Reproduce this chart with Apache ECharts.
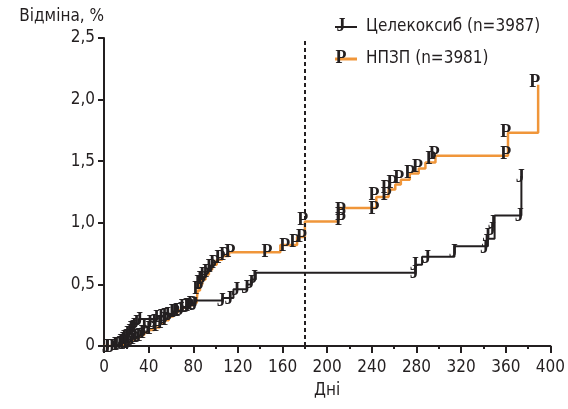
<!DOCTYPE html>
<html><head><meta charset="utf-8">
<script src="https://cdn.jsdelivr.net/npm/echarts@6/dist/echarts.min.js"></script>
<style>html,body{margin:0;padding:0;background:#fff}#c{width:568px;height:409px}</style>
</head><body><div id="c"></div>
<script>
const seriesNames = ['Целекоксиб (n=3987)', 'НПЗП (n=3981)'];
const xAxisTitle = 'Дні';
const yAxisTitle = 'Відміна, %';
const cutoffDay = 180;

// Celecoxib cumulative discontinuation (%) steps [day, %]
const celecoxibSteps = [[0,0],[12,0.01],[15,0.03],[18,0.06],[21,0.1],[24,0.14],[27,0.18],[31,0.22],[48,0.24],[55,0.26],[62,0.28],[70,0.31],[76,0.33],[82,0.37],[106,0.39],[116,0.46],[128,0.5],[132,0.54],[136,0.595],[279,0.66],[285,0.725],[314,0.81],[344,0.87],[350,1.06],[374,1.38]];
// NSAID cumulative discontinuation (%) steps [day, %]
const nsaidSteps = [[0,0],[10,0.01],[16,0.02],[20,0.03],[24,0.05],[28,0.07],[32,0.09],[36,0.11],[40,0.13],[45,0.15],[50,0.18],[54,0.21],[58,0.24],[62,0.27],[66,0.29],[70,0.31],[75,0.33],[80,0.35],[83,0.37],[84,0.45],[86,0.5],[88,0.54],[91,0.58],[94,0.62],[97,0.66],[101,0.7],[106,0.73],[112,0.76],[158,0.82],[173,0.885],[180,1.01],[210,1.12],[244,1.21],[255,1.27],[261,1.31],[266,1.35],[274,1.4],[282,1.44],[288,1.49],[297,1.545],[362,1.73],[389,2.12]];
// censoring marks [day, %]
const celecoxibCensored = [[2,0],[6,0],[10,0.01],[13,0.02],[14,0.04],[16,0.05],[17,0.07],[19,0.08],[20,0.1],[22,0.12],[23,0.14],[25,0.15],[26,0.17],[28,0.19],[31,0.22],[35,0.17],[40,0.19],[44,0.2],[46,0.23],[50,0.24],[53,0.25],[56,0.26],[62,0.28],[68,0.3],[74,0.32],[80,0.34],[105,0.37],[112,0.39],[118,0.46],[127,0.48],[131,0.52],[134,0.56],[278,0.6],[278,0.66],[289,0.72],[313,0.77],[341,0.8],[342,0.85],[343,0.9],[347,0.95],[348,1.0],[372,1.06],[373,1.38]];
const nsaidCensored = [[5,0],[12,0.01],[18,0.02],[21,0.03],[24,0.05],[27,0.06],[30,0.08],[33,0.09],[36,0.11],[42,0.14],[48,0.17],[52,0.19],[56,0.22],[63,0.28],[67,0.29],[72,0.32],[76,0.33],[79,0.35],[84,0.47],[86,0.52],[88,0.55],[90,0.58],[93,0.61],[96,0.65],[99,0.68],[104,0.72],[108,0.74],[113,0.77],[146,0.77],[162,0.82],[171,0.85],[177,0.89],[178,1.03],[212,1.03],[212,1.07],[212,1.11],[242,1.12],[242,1.23],[253,1.23],[253,1.29],[258,1.33],[264,1.37],[274,1.41],[281,1.46],[293,1.52],[296,1.56],[360,1.56],[360,1.74],[386,2.15]];

const INK = '#231f20', ORANGE = '#f0963a';
const FONT = '"DejaVu Sans Condensed","Liberation Sans Narrow",sans-serif';
const FS = 17;
const GLYPH_FONT = 'bold 18px "Liberation Serif","DejaVu Serif",serif';

function glyphSeries(name, glyph, pts) {
  return {
    type: 'custom', name: name, data: pts, z: 5, silent: true, encode: {x: 0, y: 1},
    renderItem: function (params, api) {
      const p = api.coord([api.value(0), api.value(1)]);
      return {type: 'text', x: p[0], y: p[1] + 1,
        style: {text: glyph, font: GLYPH_FONT, fill: INK, align: 'center', verticalAlign: 'middle'}};
    }
  };
}

const chart = echarts.init(document.getElementById('c'));
chart.setOption({
  animation: false,
  backgroundColor: '#fff',
  grid: {left: 104, right: 17, top: 38, bottom: 63},
  legend: {
    data: [
      {name: seriesNames[0], icon: 'path://M0,0H22V2H0Z'},
      {name: seriesNames[1], icon: 'path://M0,0H22V3H0Z'}
    ],
    orient: 'vertical', left: 330, top: 11,
    itemWidth: 22, itemHeight: 3, itemGap: 10,
    textStyle: {fontFamily: FONT, fontSize: FS, color: INK, lineHeight: 22, padding: [0,0,0,4]}
  },
  xAxis: {
    type: 'value', min: 0, max: 400, interval: 40,
    name: xAxisTitle, nameLocation: 'middle', nameGap: 36,
    nameTextStyle: {fontFamily: FONT, fontSize: FS, color: INK},
    axisLine: {lineStyle: {color: INK, width: 2}},
    axisTick: {length: 7, lineStyle: {color: INK, width: 2}},
    minorTick: {show: true, splitNumber: 2, length: 3, lineStyle: {color: INK, width: 2}},
    axisLabel: {fontFamily: FONT, fontSize: FS, color: INK, margin: 13},
    splitLine: {show: false}
  },
  yAxis: {
    type: 'value', min: 0, max: 2.5, interval: 0.5,
    name: yAxisTitle, nameLocation: 'end', nameGap: 13,
    nameTextStyle: {fontFamily: FONT, fontSize: FS, color: INK, align: 'right', padding: [0, 0, 0, 0]},
    axisLine: {show: true, lineStyle: {color: INK, width: 2}},
    axisTick: {show: true, length: 6, lineStyle: {color: INK, width: 2}},
    axisLabel: {fontFamily: FONT, fontSize: FS, color: INK, margin: 9,
      formatter: function (v) { return v === 0 ? '0' : v.toFixed(1).replace('.', ','); }},
    splitLine: {show: false}
  },
  series: [
    {name: seriesNames[0], type: 'line', step: 'end', data: celecoxibSteps, symbol: 'none',
     color: INK, lineStyle: {color: INK, width: 2}, z: 3,
     markLine: {silent: true, symbol: 'none', label: {show: false},
       lineStyle: {color: INK, width: 2, type: [4, 3]}, data: [{xAxis: cutoffDay}]}},
    {name: seriesNames[1], type: 'line', step: 'end', data: nsaidSteps, symbol: 'none',
     color: ORANGE, lineStyle: {color: ORANGE, width: 2.5}, z: 2},
    glyphSeries('c-cens', 'J', celecoxibCensored),
    glyphSeries('n-cens', 'P', nsaidCensored)
  ],
  graphic: [
    {type: 'text', x: 341, y: 26, z: 100, style: {text: 'J', font: GLYPH_FONT, fill: INK, align: 'center', verticalAlign: 'middle'}},
    {type: 'text', x: 341, y: 58, z: 100, style: {text: 'P', font: GLYPH_FONT, fill: INK, align: 'center', verticalAlign: 'middle'}}
  ]
});
</script></body></html>
